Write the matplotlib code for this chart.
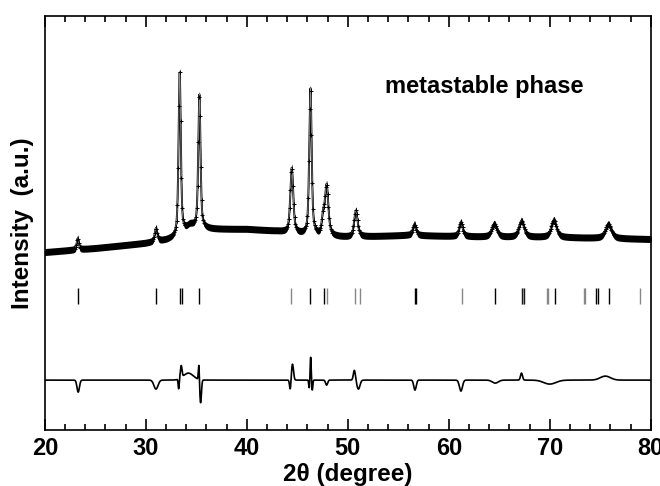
import numpy as np
import matplotlib
matplotlib.use("Agg")
import matplotlib.pyplot as plt
from matplotlib.ticker import MultipleLocator

plt.rcParams['font.family'] = ['Liberation Sans', 'DejaVu Sans']

# background of the observed pattern (2theta, intensity)
bg_pos = [20, 25, 30, 32, 33.3, 34.3, 36, 40, 43, 45, 47, 50, 53, 56, 60, 65, 70, 75, 80]
bg_val = [178, 182, 187, 190, 193, 199, 201, 201, 199, 196, 194, 193, 194, 195, 194, 193, 193, 192, 191]

# reflections: position, height above background, half width
peak_pos = [23.25, 31.0, 33.35, 34.4, 35.3, 44.45, 46.3, 47.55, 47.9, 50.8, 56.6, 61.2,
            64.5, 67.2, 70.4, 75.8]
peak_height = [11, 13, 164, 5, 134, 65, 146, 16, 50, 26, 11, 14, 13, 16, 17, 14]
peak_width = [0.12, 0.15, 0.13, 0.5, 0.13, 0.17, 0.14, 0.15, 0.2, 0.2, 0.18, 0.2, 0.3, 0.3,
              0.3, 0.35]
eta = 0.6

# Bragg positions
bragg_black = [23.3, 31.0, 33.4, 33.6, 35.3, 46.3, 47.6, 56.65, 56.75, 64.55, 67.2, 67.45,
               70.5, 74.6, 74.8, 75.9]
bragg_gray = [44.4, 47.9, 50.7, 51.2, 61.3, 67.3, 69.7, 69.8, 73.4, 73.5, 78.9]

# difference curve features: position, amplitude, width
diff_pos = [23.3, 31.0, 33.25, 33.5, 34.2, 35.25, 35.42, 44.3, 44.52, 46.18, 46.32, 46.48,
            47.9, 50.65, 51.05, 56.65, 61.2, 64.6, 67.2, 70.0, 75.5]
diff_amp = [-12, -9, -10, 12, 7, 16, -23, -10, 16, -8, 23, -10, -5, 10, -9, -10, -11, -3, 7,
            -4, 4]
diff_wid = [0.12, 0.2, 0.05, 0.08, 0.5, 0.05, 0.08, 0.07, 0.1, 0.05, 0.05, 0.05, 0.1, 0.1,
            0.15, 0.12, 0.15, 0.3, 0.1, 0.6, 0.5]
diff_base = 50
band = 3.5  # half thickness of the scattered observed points

tt = np.arange(20, 80.001, 0.02)

obs = np.interp(tt, bg_pos, bg_val).astype(float)
for p, h, w in zip(peak_pos, peak_height, peak_width):
    lor = 1 / (1 + ((tt - p) / w) ** 2)
    gau = np.exp(-np.log(2) * ((tt - p) / w) ** 2)
    obs += h * (eta * lor + (1 - eta) * gau)

diff = np.full_like(tt, diff_base, dtype=float)
for p, a, w in zip(diff_pos, diff_amp, diff_wid):
    diff += a * np.exp(-0.5 * ((tt - p) / w) ** 2)

fig = plt.figure(figsize=(6.6, 4.86), dpi=100)
ax = fig.add_axes([0.068, 0.115, 0.918, 0.852])

# observed points (band) and calculated profile
ax.fill_between(tt, obs - band, obs + band, color='black', linewidth=0)
ax.plot(tt, obs, color='black', linewidth=1.4)
ax.plot(tt, obs, color='#8c8c8c', linewidth=0.6)
ax.plot(tt[::4], obs[::4], linestyle='none', marker='+', color='black', markersize=3.5,
        markeredgewidth=0.7)

ax.vlines(bragg_black, 126, 142, color='black', linewidth=1)
ax.vlines(bragg_gray, 126, 142, color='#888888', linewidth=1)

ax.plot(tt, diff, color='black', linewidth=1.2)

ax.set_xlim(20, 80)
ax.set_ylim(0, 414)
ax.set_yticks([])
ax.xaxis.set_major_locator(MultipleLocator(10))
ax.xaxis.set_minor_locator(MultipleLocator(2))
ax.tick_params(axis='x', which='both', direction='in', top=True, width=1.2)
ax.tick_params(axis='x', which='major', length=8, labelsize=17, pad=5)
ax.tick_params(axis='x', which='minor', length=4)
for lab in ax.get_xticklabels():
    lab.set_fontweight('bold')
for s in ax.spines.values():
    s.set_linewidth(1.2)

ax.set_xlabel('2θ (degree)', fontsize=17.5, fontweight='bold', labelpad=2)
ax.set_ylabel('Intensity  (a.u.)', fontsize=17.5, fontweight='bold', labelpad=8)
ax.text(0.561, 0.857, 'metastable phase', transform=ax.transAxes, fontsize=17,
        fontweight='bold', va='top')

fig.savefig('out.png', dpi=100)
